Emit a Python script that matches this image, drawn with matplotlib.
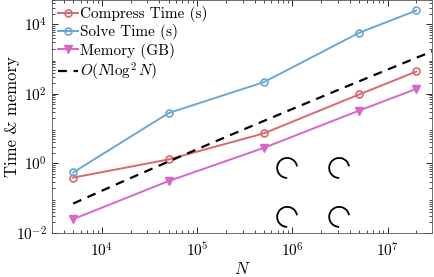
import numpy as np
import matplotlib
matplotlib.use("Agg")
import matplotlib.pyplot as plt
from matplotlib.patches import Arc

plt.rcParams['font.family'] = 'serif'
plt.rcParams['font.serif'] = ['cmr10']
plt.rcParams['mathtext.fontset'] = 'cm'
plt.rcParams['axes.formatter.use_mathtext'] = True
plt.rcParams['axes.unicode_minus'] = False

# donnees
n = [5e3, 5e4, 5e5, 5e6, 2e7]
compress_time = [0.39, 1.3, 7.3, 96, 440]
solve_time = [0.55, 28, 217, 5700, 25000]
memory = [0.025, 0.31, 2.8, 33, 140]

# droite de reference c * N log^2 N
ref_const = 1.93e-7
ref_n = np.geomspace(5e3, 3e7, 50)
ref = ref_const * ref_n * np.log(ref_n) ** 2

fig = plt.figure(figsize=(4.34, 2.77), dpi=100)
ax = fig.add_axes([0.12, 0.159, 0.875, 0.841])

ax.plot(n, compress_time, color='#d9686b', marker='o', mfc='none', ms=5, mew=1.2,
        lw=1.4, label="Compress Time (s)")
ax.plot(n, solve_time, color='#68a7d8', marker='o', mfc='none', ms=5, mew=1.2,
        lw=1.4, label="Solve Time (s)")
ax.plot(n, memory, color='#d466cc', marker='v', ms=6, lw=1.4, label="Memory (GB)")
ax.plot(ref_n, ref, color='black', ls='--', lw=1.6, dashes=(4, 3),
        label=r"$O(N\log^2 N)$")

ax.set_xscale('log')
ax.set_yscale('log')
ax.set_xlim(3e3, 2.9e7)
ax.set_ylim(1e-2, 5e4)
ax.set_yticks([1e-2, 1e0, 1e2, 1e4])
ax.tick_params(which='both', direction='in', top=True, right=True, labelsize=11)
ax.tick_params(axis='x', which='major', pad=6)
ax.tick_params(which='major', length=4, width=0.6)
ax.tick_params(which='minor', length=2, width=0.5)
for s in ax.spines.values():
    s.set_linewidth(0.6)
    s.set_color('#555555')

ax.set_xlabel(r"$N$", fontsize=12, labelpad=1)
ax.set_ylabel("Time & memory", fontsize=12)
ax.yaxis.set_label_coords(-0.085, 0.5)

ax.legend(loc='upper left', frameon=False, fontsize=11, handlelength=1.3,
          handletextpad=0.1, labelspacing=0.15, borderaxespad=0.2, borderpad=0.2)

# petits arcs decoratifs
w = 20 / 380
h = 20 / 233
for cx, cy in [(0.619, 0.279), (0.756, 0.279), (0.619, 0.069), (0.756, 0.069)]:
    ax.add_patch(Arc((cx, cy), w, h, theta1=15, theta2=270, transform=ax.transAxes,
                     color='black', lw=1.3))

plt.savefig("out.png", dpi=100)
